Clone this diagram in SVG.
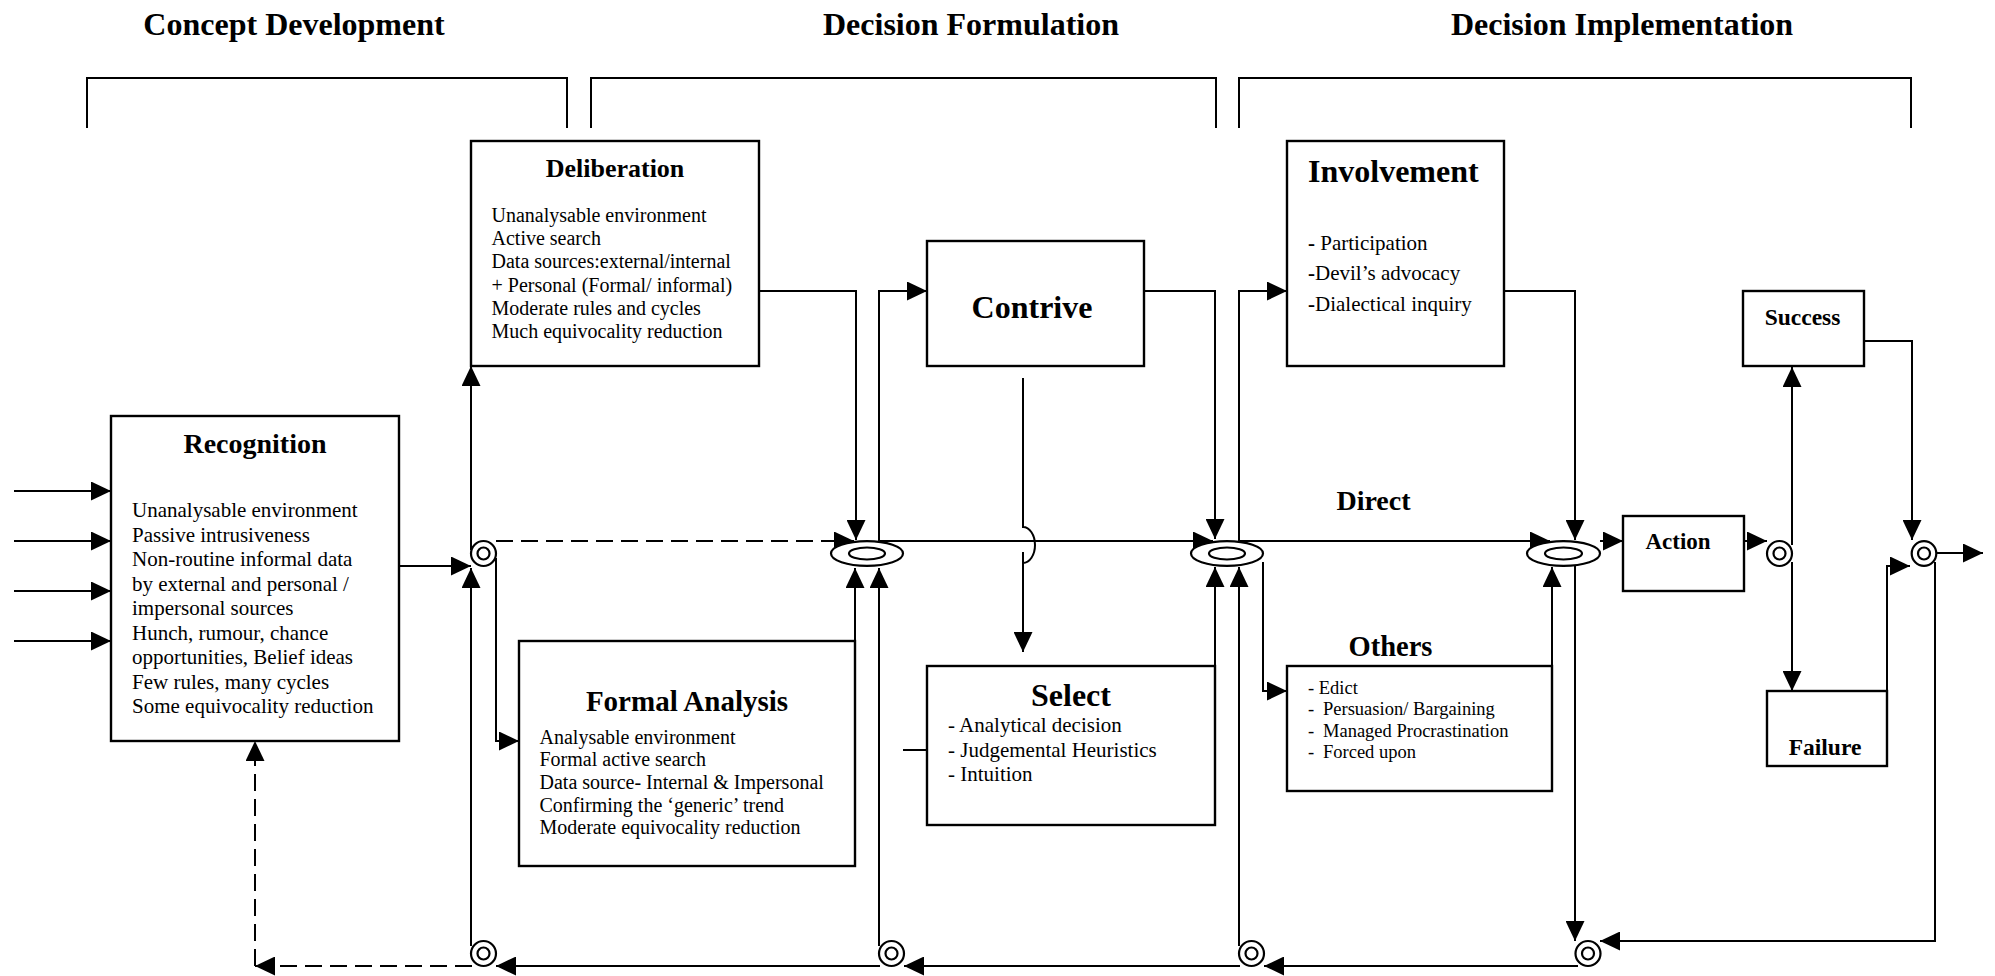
<svg xmlns="http://www.w3.org/2000/svg" width="1995" height="976" viewBox="0 0 1995 976">
<style>
  .box{fill:#fff;stroke:#000;stroke-width:2.4}
  .br{fill:none;stroke:#000;stroke-width:2}
  .c{fill:none;stroke:#000;stroke-width:2}
  .cd{fill:none;stroke:#000;stroke-width:2;stroke-dasharray:17 8}
  .arr{marker-end:url(#ah)}
  .ring{fill:#fff;stroke:#000;stroke-width:2.2}
  text{font-family:"Liberation Serif","Times New Roman","DejaVu Serif",serif;fill:#000}
  .h{font-weight:bold}
</style>
<defs>
  <marker id="ah" markerUnits="userSpaceOnUse" markerWidth="20" markerHeight="19" refX="20" refY="9.5" orient="auto">
    <path d="M0,0 L20,9.5 L0,19 z" fill="#000"/>
  </marker>
</defs>
<rect width="1995" height="976" fill="#fff"/>

<g id="headers">
  <text class="h" x="294" y="35" font-size="32" text-anchor="middle">Concept Development</text>
  <text class="h" x="971" y="35" font-size="32" text-anchor="middle">Decision Formulation</text>
  <text class="h" x="1622" y="35" font-size="32" text-anchor="middle">Decision Implementation</text>
  <path class="br" d="M87,128 V78 H567 V128"/>
  <path class="br" d="M591,128 V78 H1216 V128"/>
  <path class="br" d="M1239,128 V78 H1911 V128"/>
</g>

<g id="connectors">
  <path class="c arr" d="M14,491 H111"/>
  <path class="c arr" d="M14,541 H111"/>
  <path class="c arr" d="M14,591 H111"/>
  <path class="c arr" d="M14,641 H111"/>
  <path class="c arr" d="M399,566 H471"/>
  <path class="c arr" d="M471,550 V366"/>
  <path class="c arr" d="M471,946 V568"/>
  <path class="c arr" d="M496,558 V741 H519"/>
  <path class="cd arr" d="M496,541 H854"/>
  <path class="c arr" d="M759,291 H856 V540"/>
  <path class="c arr" d="M855,641 V568"/>
  <path class="c arr" d="M879,946 V568"/>
  <path class="c arr" d="M879,541 V291 H927"/>
  <path class="c arr" d="M879,541 H1213"/>
  <path class="c" d="M1023,378 V527 A12,18 0 0 1 1023,563"/>
  <path class="c arr" d="M1023,552 V652"/>
  <path class="c arr" d="M1144,291 H1215 V539"/>
  <path class="c arr" d="M1215,666 V567"/>
  <path class="c arr" d="M1239,946 V567"/>
  <path class="c arr" d="M1239,541 V291 H1287"/>
  <path class="c arr" d="M1239,541 H1550"/>
  <path class="c arr" d="M1263,562 V691 H1287"/>
  <path class="c arr" d="M1552,666 V567"/>
  <path class="c arr" d="M1504,291 H1575 V540"/>
  <path class="c arr" d="M1575,564 V941"/>
  <path class="c arr" d="M1600,541 H1623"/>
  <path class="c arr" d="M1744,541 H1767"/>
  <path class="c arr" d="M1792,545 V367"/>
  <path class="c arr" d="M1792,562 V691"/>
  <path class="c arr" d="M1864,341 H1912 V540"/>
  <path class="c arr" d="M1887,691 V566 H1910"/>
  <path class="c arr" d="M1936,553 H1983"/>
  <path class="c arr" d="M1935,562 V941 H1600"/>
  <path class="c arr" d="M1578,966 H1264"/>
  <path class="c arr" d="M1240,966 H904"/>
  <path class="c arr" d="M880,966 H496"/>
  <path class="cd arr" d="M472,966 H255"/>
  <path class="cd arr" d="M255,966 V741"/>
  <path class="c" d="M903,750 H927"/>
</g>

<g id="junctions">
  <g id="j1"><circle class="ring" cx="483.5" cy="553.5" r="12.5"/><circle class="ring" cx="483.5" cy="553.5" r="6"/></g>
  <g id="e1"><ellipse class="ring" cx="867" cy="553.5" rx="36" ry="12.3"/><ellipse class="ring" cx="867" cy="553.5" rx="18" ry="6"/></g>
  <g id="e2"><ellipse class="ring" cx="1227" cy="553.5" rx="36" ry="12.3"/><ellipse class="ring" cx="1227" cy="553.5" rx="18" ry="6"/></g>
  <g id="e3"><ellipse class="ring" cx="1563.5" cy="553.5" rx="36.5" ry="12.3"/><ellipse class="ring" cx="1563.5" cy="553.5" rx="18.5" ry="6"/></g>
  <g id="j2"><circle class="ring" cx="1779.5" cy="553.5" r="12.5"/><circle class="ring" cx="1779.5" cy="553.5" r="6"/></g>
  <g id="f2"><circle class="ring" cx="1924" cy="553.5" r="12.3"/><circle class="ring" cx="1924" cy="553.5" r="6"/></g>
  <g id="b1"><circle class="ring" cx="483.5" cy="953.5" r="12.5"/><circle class="ring" cx="483.5" cy="953.5" r="6"/></g>
  <g id="b2"><circle class="ring" cx="891.5" cy="953.5" r="12.5"/><circle class="ring" cx="891.5" cy="953.5" r="6"/></g>
  <g id="b3"><circle class="ring" cx="1251.5" cy="953.5" r="12.5"/><circle class="ring" cx="1251.5" cy="953.5" r="6"/></g>
  <g id="b4"><circle class="ring" cx="1588" cy="953.5" r="12.5"/><circle class="ring" cx="1588" cy="953.5" r="6"/></g>
</g>

<g id="recognition">
  <rect class="box" x="111" y="416" width="288" height="325"/>
  <text class="h" x="255" y="453" font-size="28" text-anchor="middle">Recognition</text>
  <g font-size="21">
    <text x="132" y="517">Unanalysable environment</text>
    <text x="132" y="541.5">Passive intrusiveness</text>
    <text x="132" y="566">Non-routine informal data</text>
    <text x="132" y="590.5">by external and personal /</text>
    <text x="132" y="615">impersonal sources</text>
    <text x="132" y="639.5">Hunch, rumour, chance</text>
    <text x="132" y="664">opportunities, Belief ideas</text>
    <text x="132" y="688.5">Few rules, many cycles</text>
    <text x="132" y="713">Some equivocality reduction</text>
  </g>
</g>

<g id="deliberation">
  <rect class="box" x="471" y="141" width="288" height="225"/>
  <text class="h" x="615" y="177" font-size="26" text-anchor="middle">Deliberation</text>
  <g font-size="20">
    <text x="491.5" y="222">Unanalysable environment</text>
    <text x="491.5" y="245">Active search</text>
    <text x="491.5" y="268">Data sources:external/internal</text>
    <text x="491.5" y="291.5">+ Personal (Formal/ informal)</text>
    <text x="491.5" y="315">Moderate rules and cycles</text>
    <text x="491.5" y="337.5">Much equivocality reduction</text>
  </g>
</g>

<g id="formal-analysis">
  <rect class="box" x="519" y="641" width="336" height="225"/>
  <text class="h" x="687" y="711" font-size="29" text-anchor="middle">Formal Analysis</text>
  <g font-size="20">
    <text x="539.5" y="743.5">Analysable environment</text>
    <text x="539.5" y="766">Formal active search</text>
    <text x="539.5" y="788.5">Data source- Internal &amp; Impersonal</text>
    <text x="539.5" y="811.5">Confirming the ‘generic’ trend</text>
    <text x="539.5" y="834">Moderate equivocality reduction</text>
  </g>
</g>

<g id="contrive">
  <rect class="box" x="927" y="241" width="217" height="125"/>
  <text class="h" x="1032" y="318" font-size="32" text-anchor="middle">Contrive</text>
</g>

<g id="select">
  <rect class="box" x="927" y="666" width="288" height="159"/>
  <text class="h" x="1071" y="706" font-size="32" text-anchor="middle">Select</text>
  <g font-size="21">
    <text x="948" y="732">- Analytical decision</text>
    <text x="948" y="756.5">- Judgemental Heuristics</text>
    <text x="948" y="781">- Intuition</text>
  </g>
</g>

<g id="involvement">
  <rect class="box" x="1287" y="141" width="217" height="225"/>
  <text class="h" x="1308" y="182" font-size="32">Involvement</text>
  <g font-size="21">
    <text x="1308" y="250"><tspan font-weight="bold">-</tspan> Participation</text>
    <text x="1308" y="280"><tspan font-weight="bold">-</tspan>Devil’s advocacy</text>
    <text x="1308" y="311"><tspan font-weight="bold">-</tspan>Dialectical inquiry</text>
  </g>
</g>

<g id="direct">
  <text class="h" x="1373.5" y="510" font-size="28" text-anchor="middle">Direct</text>
</g>

<g id="others">
  <text class="h" x="1390.5" y="656" font-size="28.5" text-anchor="middle">Others</text>
  <rect class="box" x="1287" y="666" width="265" height="125"/>
  <g font-size="18.5">
    <text x="1308" y="694">- Edict</text>
    <text x="1308" y="715">-</text><text x="1323" y="715">Persuasion/ Bargaining</text>
    <text x="1308" y="737">-</text><text x="1323" y="737">Managed Procrastination</text>
    <text x="1308" y="758">-</text><text x="1323" y="758">Forced upon</text>
  </g>
</g>

<g id="action">
  <rect class="box" x="1623" y="516" width="121" height="75"/>
  <text class="h" x="1678" y="548.5" font-size="23" text-anchor="middle">Action</text>
</g>

<g id="success">
  <rect class="box" x="1743" y="291" width="121" height="75"/>
  <text class="h" x="1802.5" y="324.5" font-size="23.5" text-anchor="middle">Success</text>
</g>

<g id="failure">
  <rect class="box" x="1767" y="691" width="120" height="75"/>
  <text class="h" x="1825" y="755" font-size="23.5" text-anchor="middle">Failure</text>
</g>
</svg>
